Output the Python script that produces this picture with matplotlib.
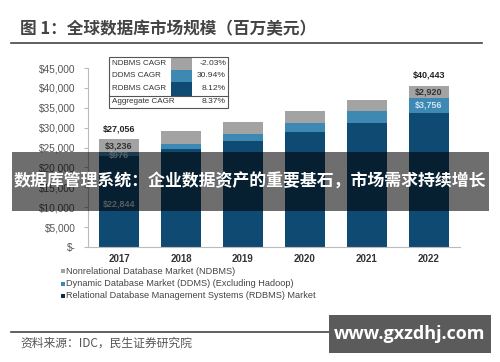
import matplotlib
matplotlib.use("Agg")
import matplotlib.pyplot as plt
from matplotlib.patches import Rectangle
from matplotlib.lines import Line2D
import numpy as np

years = ["2017", "2018", "2019", "2020", "2021", "2022"]
rdbms = [22844, 24700, 26700, 28870, 31220, 33767]
ddms = [976, 1280, 1670, 2190, 2870, 3756]
ndbms = [3236, 3170, 3105, 3040, 2980, 2920]
totals_shown = {0: "$27,056", 5: "$40,443"}
yticks = [0, 5000, 10000, 15000, 20000, 25000, 30000, 35000, 40000, 45000]
ytick_labels = ["$-", "$5,000", "$10,000", "$15,000", "$20,000", "$25,000",
                "$30,000", "$35,000", "$40,000", "$45,000"]
cagr_labels = ["NDBMS CAGR", "DDMS CAGR", "RDBMS CAGR", "Aggregate CAGR"]
cagr_values = ["-2.03%", "30.94%", "8.12%", "8.37%"]
legend_labels = ["Nonrelational Database Market (NDBMS)",
                 "Dynamic Database Market (DDMS) (Excluding Hadoop)",
                 "Relational Database Management Systems (RDBMS) Market"]

C_N = "#a3a3a3"
C_D = "#3d89b3"
C_R = "#0f4a73"
CJK = ["Noto Sans CJK SC", "DejaVu Sans"]
LAT = ["Liberation Sans", "DejaVu Sans"]

W, H = 500, 362
fig = plt.figure(figsize=(5, 3.62), dpi=100)
fig.patch.set_facecolor("white")

def fx(x): return x / W
def fy(y): return 1 - y / H

ax = fig.add_axes([fx(88), fy(247), fx(460) - fx(88), fy(68) - fy(247)])
x = np.arange(len(years))
bw = 0.65
ax.bar(x, rdbms, bw, color=C_R, zorder=2)
ax.bar(x, ddms, bw, bottom=rdbms, color=C_D, zorder=2)
bot2 = [a + b for a, b in zip(rdbms, ddms)]
ax.bar(x, ndbms, bw, bottom=bot2, color=C_N, zorder=2)
ax.set_xlim(-0.5, 5.5)
ax.set_ylim(0, 45000)
ax.set_yticks(yticks)
ax.set_yticklabels(ytick_labels, family=LAT, fontsize=7.3, color="#555555")
ax.set_xticks(x)
ax.set_xticklabels(years, family=LAT, fontsize=7, fontweight="bold", color="#333333")
for s in ["top", "right"]:
    ax.spines[s].set_visible(False)
for s in ["left", "bottom"]:
    ax.spines[s].set_color("#bbbbbb")
    ax.spines[s].set_linewidth(0.8)
ax.tick_params(axis="y", length=3, color="#bbbbbb", pad=6)
ax.tick_params(axis="x", length=0, pad=5)

# bar labels
for i, t in totals_shown.items():
    tot = rdbms[i] + ddms[i] + ndbms[i]
    ax.text(i, tot + 1600, t, ha="center", va="bottom", fontsize=6.5,
            fontweight="bold", family=LAT, color="#222222")
    ax.text(i, bot2[i] + ndbms[i] / 2, "$" + f"{ndbms[i]:,}", ha="center", va="center",
            fontsize=6.5, fontweight="bold", family=LAT, color="#333333")
    ax.text(i, rdbms[i] + ddms[i] / 2 - (0 if i else 300), "$" + f"{ddms[i]:,}", ha="center",
            va="center", fontsize=6.5, fontweight="bold", family=LAT, color="#cfe3f0")
ax.text(0, 10800, "$" + f"{rdbms[0]:,}", ha="center", va="center", fontsize=6.5,
        fontweight="bold", family=LAT, color="#c8d8e6")

# CAGR table (figure pixel coords)
tx0, tx1, ty0 = 109, 228, 57
row_h = [12.5, 12.5, 13.5, 12]
ys = [ty0]
for h in row_h:
    ys.append(ys[-1] + h)
sw_colors = [C_N, C_D, C_R, None]
for k in range(4):
    yc = (ys[k] + ys[k + 1]) / 2
    fig.text(fx(111.5), fy(yc), cagr_labels[k], ha="left", va="center", fontsize=5.8,
             family=LAT, color="#333333")
    fig.text(fx(226), fy(yc), cagr_values[k], ha="right", va="center", fontsize=6.1,
             family=LAT, color="#333333")
    if sw_colors[k]:
        fig.patches.append(Rectangle((fx(171), fy(ys[k + 1])), fx(192) - fx(171),
                                     fy(ys[k]) - fy(ys[k + 1]), transform=fig.transFigure,
                                     facecolor=sw_colors[k], edgecolor="none"))
fig.patches.append(Rectangle((fx(tx0), fy(ys[-1])), fx(tx1) - fx(tx0), fy(ty0) - fy(ys[-1]),
                             transform=fig.transFigure, facecolor="none",
                             edgecolor="#555555", linewidth=0.8))
fig.lines.append(Line2D([fx(tx0), fx(tx1)], [fy(ys[3]), fy(ys[3])],
                        transform=fig.transFigure, color="#555555", linewidth=0.8))

# bottom legend
leg_cols = [C_N, C_D, "#0b2f4a"]
for k, lab in enumerate(legend_labels):
    yc = [271, 283.5, 296][k]
    fig.patches.append(Rectangle((fx(61), fy(yc + 2)), fx(4), fx(4) * W / H,
                                 transform=fig.transFigure, facecolor=leg_cols[k],
                                 edgecolor="none"))
    fig.text(fx(66), fy(yc), lab, ha="left", va="center", fontsize=6.6, family=LAT,
             color="#444444")

# title and rules
fig.text(fx(20), fy(29), "图 1：全球数据库市场规模（百万美元）", ha="left", va="center",
         fontsize=12, fontweight="bold", family=CJK, color="#444444")
fig.lines.append(Line2D([fx(11), fx(482)], [fy(43), fy(43)], transform=fig.transFigure,
                        color="#444444", linewidth=1.2))
fig.lines.append(Line2D([fx(11), fx(482)], [fy(332), fy(332)], transform=fig.transFigure,
                        color="#444444", linewidth=1.2))
fig.text(fx(20), fy(343), "资料来源：IDC，民生证券研究院", ha="left", va="center",
         fontsize=8.5, family=CJK, color="#555555")

# overlay band
fig.patches.append(Rectangle((fx(12), fy(211)), fx(489) - fx(12), fy(152) - fy(211),
                             transform=fig.transFigure, facecolor="black", alpha=0.57,
                             edgecolor="none", zorder=10))
fig.text(fx(250), fy(182), "数据库管理系统：企业数据资产的重要基石，市场需求持续增长",
         ha="center", va="center", fontsize=12.2, fontweight="bold", family=CJK,
         color="white", zorder=11)

# watermark
fig.patches.append(Rectangle((fx(329), fy(353)), fx(491) - fx(329), fy(315) - fy(353),
                             transform=fig.transFigure, facecolor="#5b5b5b",
                             edgecolor="none", zorder=10))
fig.text(fx(410), fy(334), "www.gxzdhj.com", ha="center", va="center", fontsize=13,
         fontweight="bold", family=["Open Sans", "DejaVu Sans"], color="white", zorder=11)

fig.savefig("out.png", dpi=100)
